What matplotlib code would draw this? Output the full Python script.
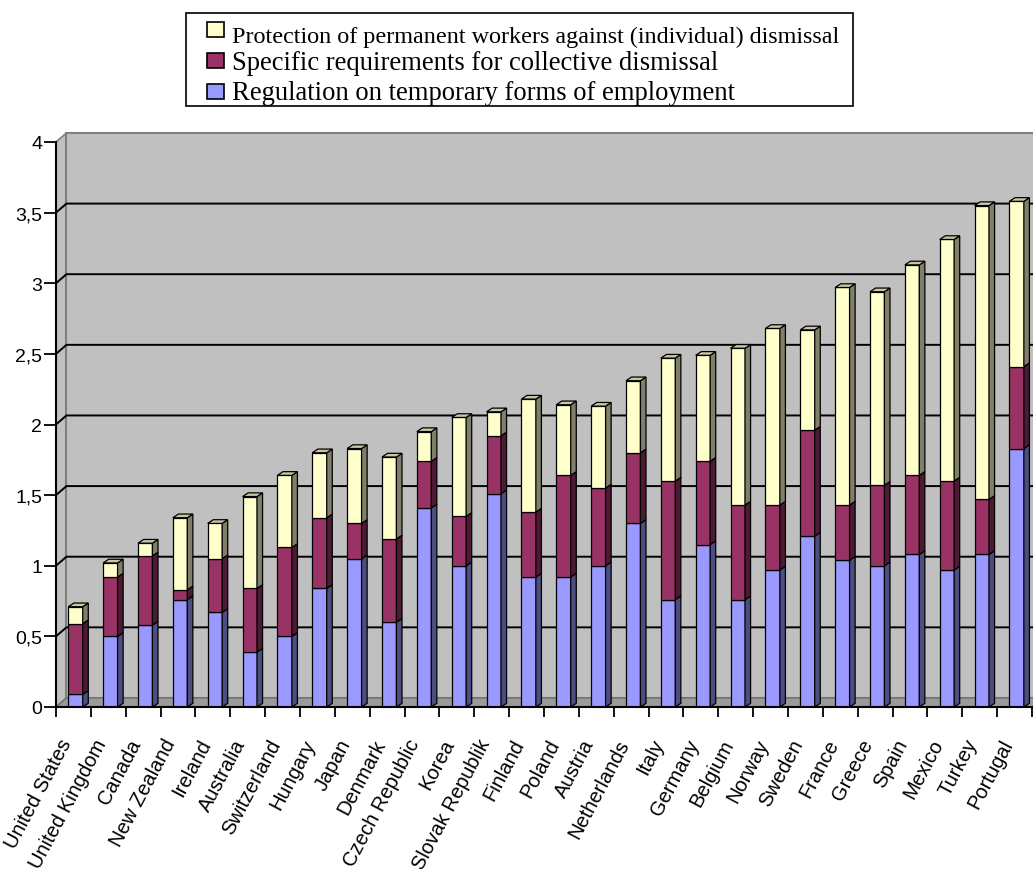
import numpy as np
import matplotlib
matplotlib.use('Agg')
import matplotlib.pyplot as plt
from matplotlib.patches import Polygon, Rectangle

plt.rcParams['font.family'] = ['Liberation Sans', 'DejaVu Sans']

countries = ['United States', 'United Kingdom', 'Canada', 'New Zealand', 'Ireland',
             'Australia', 'Switzerland', 'Hungary', 'Japan', 'Denmark',
             'Czech Republic', 'Korea', 'Slovak Republik', 'Finland', 'Poland',
             'Austria', 'Netherlands', 'Italy', 'Germany', 'Belgium', 'Norway',
             'Sweden', 'France', 'Greece', 'Spain', 'Mexico', 'Turkey', 'Portugal']

temporary = [0.09, 0.50, 0.58, 0.76, 0.67, 0.39, 0.50, 0.84, 1.05, 0.60,
             1.41, 1.00, 1.51, 0.92, 0.92, 1.00, 1.30, 0.76, 1.15, 0.76,
             0.97, 1.21, 1.04, 1.00, 1.08, 0.97, 1.08, 1.83]
collective = [0.50, 0.42, 0.49, 0.07, 0.38, 0.45, 0.63, 0.50, 0.25, 0.59,
              0.33, 0.35, 0.41, 0.46, 0.72, 0.55, 0.50, 0.84, 0.59, 0.67,
              0.46, 0.75, 0.39, 0.57, 0.56, 0.63, 0.39, 0.58]
permanent = [0.12, 0.10, 0.09, 0.51, 0.25, 0.65, 0.51, 0.46, 0.53, 0.58,
             0.21, 0.70, 0.17, 0.80, 0.50, 0.58, 0.51, 0.87, 0.75, 1.11,
             1.25, 0.71, 1.54, 1.37, 1.49, 1.71, 2.08, 1.17]

series_labels = ['Protection of permanent workers against (individual) dismissal',
                 'Specific requirements for collective dismissal',
                 'Regulation on temporary forms of employment']

y_ticks = [0, 0.5, 1, 1.5, 2, 2.5, 3, 3.5, 4]
y_tick_labels = ['0', '0,5', '1', '1,5', '2', '2,5', '3', '3,5', '4']

W, H = 1033, 870
fig = plt.figure(figsize=(W / 100, H / 100), dpi=100)
fig.patch.set_facecolor('white')
ax = fig.add_axes([56 / W, 162 / H, 976 / W, 565 / H])
n = len(countries)
ymax = y_ticks[-1]
ax.set_xlim(0, n)
ax.set_ylim(0, ymax)
ax.patch.set_visible(False)

# ---- 3D walls ----
wdx, wdy = 0.30, 0.064
wall = '#C0C0C0'
ax.add_patch(Polygon([(0, 0), (wdx, wdy), (wdx, ymax + wdy), (0, ymax)], closed=True,
                     fc=wall, ec='#808080', lw=1.2, clip_on=False, zorder=0.5))
ax.add_patch(Rectangle((wdx, wdy), n, ymax, fc=wall, ec='#808080', lw=1.5,
                       clip_on=False, zorder=0.5))
ax.add_patch(Polygon([(0, 0), (n, 0), (n + wdx, wdy), (wdx, wdy)], closed=True,
                     fc='#9A9A9A', ec='#707070', lw=1.0, clip_on=False, zorder=0.55))
for v in y_ticks[1:-1]:
    ax.plot([0, wdx, n + wdx], [v, v + wdy, v + wdy], color='black', lw=1.4,
            clip_on=False, zorder=0.6, solid_capstyle='butt')

# ---- 3D stacked bars ----
x = np.arange(n)
bx = x + 0.353
bw = 0.413
bdx, bdy = 0.16, 0.026
series = [(np.array(temporary), '#9999FF', '#4D4D80'),
          (np.array(collective), '#993366', '#4D1A33'),
          (np.array(permanent), '#FFFFCC', '#80806A')]
cap_color = '#C8C8A4'
bottom = np.zeros(n)
for vals, fc, sc in series:
    ax.bar(bx, vals, bw, bottom=bottom, align='edge', color=fc,
           edgecolor='black', lw=0.9, zorder=2)
    for i in range(n):
        b, t = bottom[i], bottom[i] + vals[i]
        xr = bx[i] + bw
        ax.add_patch(Polygon([(xr, b), (xr + bdx, b + bdy), (xr + bdx, t + bdy), (xr, t)],
                             closed=True, fc=sc, ec='black', lw=0.9, zorder=2,
                             clip_on=False))
    bottom = bottom + vals
for i in range(n):
    t = bottom[i]
    ax.add_patch(Polygon([(bx[i], t), (bx[i] + bdx, t + bdy), (bx[i] + bw + bdx, t + bdy),
                          (bx[i] + bw, t)], closed=True, fc=cap_color, ec='black',
                         lw=0.9, zorder=2, clip_on=False))

# ---- axes / ticks ----
for s in ['top', 'right']:
    ax.spines[s].set_visible(False)
for s in ['left', 'bottom']:
    ax.spines[s].set_color('black')
    ax.spines[s].set_linewidth(1.5)
    ax.spines[s].set_zorder(3)

ax.set_yticks(y_ticks, y_tick_labels)
ax.tick_params(axis='y', direction='out', length=9, width=1.3, pad=1,
               labelsize=14, colors='black')
ax.set_xticks(np.arange(n + 1))
ax.tick_params(axis='x', which='major', direction='out', length=7.2, width=1.3,
               labelbottom=False, colors='black')
ax.set_xticks(x + 0.31, countries, minor=True)
ax.tick_params(axis='x', which='minor', length=0, pad=23.8, labelsize=14.5)
for lab in ax.get_xticklabels(minor=True):
    lab.set_rotation(62)
    lab.set_ha('right')
    lab.set_va('center')
    lab.set_rotation_mode('anchor')

# ---- legend (drawn box) ----
def fx(px):
    return px / W

def fy(py):
    return 1 - py / H

fig.patches.append(Rectangle((fx(186), fy(107)), fx(853) - fx(186), fy(14) - fy(107),
                             transform=fig.transFigure, fc='white', ec='black', lw=1.2,
                             zorder=5))
leg_colors = ['#FFFFCC', '#993366', '#9999FF']
marker_tops = [22.5, 53.5, 85]
baselines = [43.3, 70, 100]
sizes = [17.4, 19.2, 19.2]
for lbl, c, mt, bl, fs in zip(series_labels, leg_colors, marker_tops, baselines, sizes):
    fig.patches.append(Rectangle((fx(207), fy(mt + 15)), fx(224) - fx(207), fy(mt) - fy(mt + 15),
                                 transform=fig.transFigure, fc=c, ec='black', lw=1.2,
                                 zorder=6))
    fig.text(fx(232.5), fy(bl), lbl, fontsize=fs, family='Liberation Serif',
             va='baseline', ha='left', color='black', zorder=6)

fig.savefig('out.png', dpi=100)
